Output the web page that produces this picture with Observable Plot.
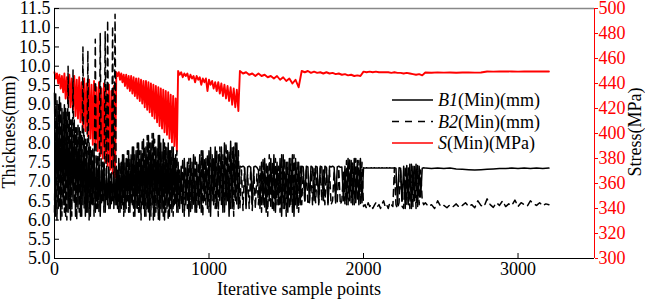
<!DOCTYPE html>
<html><head><meta charset="utf-8">
<script src="https://cdn.jsdelivr.net/npm/d3@7"></script>
<script src="https://cdn.jsdelivr.net/npm/@observablehq/plot@0.6"></script>
<style>
body{margin:0;background:#fff}
#chart svg, #chart svg text { font-family: "Liberation Serif", "Times New Roman", serif; }
</style>
</head><body><div id="chart"></div>
<script>
// ---- tick labels ----
const thicknessTicks = [5.0,5.5,6.0,6.5,7.0,7.5,8.0,8.5,9.0,9.5,10.0,10.5,11.0,11.5];
const stressTicks = [300,320,340,360,380,400,420,440,460,480,500];
const xTicks = [0,1000,2000,3000];
const legendNames = ["B1","B2","S"];
const legendUnits = ["(Min)(mm)","(Min)(mm)","(Min)(MPa)"];

// ---- S (Min)(MPa), segments: [start, step, values] ----
const sSeg1 = [449,444,448,440,447,436,446,433,448,428,445,425,447,421,444,419,446,414,443,412,445,409,441,404,444,402,440,398,443,396,439,391,442,389,437,386,441,382,436,380,440,377,435,374,439,371,434,368,438,365];
const sSeg2 = [449,446,449,443,448,441,447,438,447,436,446,434,446,432,445,430,444,428,444,426,443,424,442,421,442,419,441,417,440,414,439,412,438,409,437,406,436,404,435,401,434,399,433,396,431,393,430,390,428,386];
const sSeg3 = [450,447,449,445,448,446,448,443,447,444,446,441,446,443,445,439,444,441,444,434,443,439,442,436,441,434,441,432,440,430,439,428,438,426,437,423,436,421,435,418];
const sSeg4 = [450,448,449,447,448,446,448,446,447,445,446,444,446,443,445,442,444,440,443,437];
const sSeg5 = [450,449,450,448.5,449.5,448.5,449,448,449,448,448.5,447.5,448,447,447.5,446.5,447,446,446.5,446];
const sSeg6 = [449.5,449,449.5,449,449.5,449,449,449,449,448.5,449,448.5,448.5,448,448.5,448,447.5,447,447.5,446.5];
const sSeg7 = [448.8,448.6,448.9,448.7,448.8,448.6,448.8,448.9,448.7,448.8,449.6,449.5,449.6,449.7,449.6,449.5,449.6,449.6,449.7,449.6,449.6];

// ---- B1 (Min)(mm) ----
const b1Seg1 = [9.3,6.1,9.1,6.3,9.2,6.0,8.9,6.4,9.0,6.1,8.8,6.2,8.8,6.0,8.6,6.5,8.6,6.1,8.4,6.3,8.4,6.1,8.2,6.4,8.2,6.1,8.0,6.2,8.0,6.1,7.8,6.4,7.8,6.2,7.6,6.3,7.6,6.1,7.5,6.5,7.5,6.2,7.3,6.4,7.3,6.3,7.2,6.5,7.2,6.4];
const b1Seg2 = [7.4,6.3,7.6,6.2,7.5,6.4,7.7,6.2,7.6,6.5,7.8,6.2,7.7,6.4,7.9,6.1,7.8,6.3,8.0,6.2,7.8,6.4,8.1,6.1,7.9,6.3,8.2,6.0,8.0,6.4,8.25,6.1,7.9,6.3,8.2,6.0,8.0,6.2,8.1,6.0,7.9,6.3,8.0,6.1,7.8,6.2,7.9,6.4,7.7,6.2];
const b1Seg3 = [7.5,6.3,7.4,6.2,7.6,6.4,7.5,6.1,7.6,6.3,7.7,6.2,7.5,6.4,7.7,6.2,7.8,6.5,7.6,6.3,7.8,6.1,7.7,6.4,7.9,6.3,7.7,6.5,7.9,6.2,8.0,6.4,7.8,6.1,8.05,6.3,7.9,6.5,8.0,6.3];
const b1Seg4 = [7.4,7.38,7.4,7.37,6.3,7.38,7.4,7.37,6.4,7.38,7.4,7.37,7.3,6.3,7.5,6.4,7.6,6.2,7.4,6.5,7.6,6.3,7.7,6.2,7.5,6.4,7.6,6.1,7.7,6.3,7.5,6.2,7.6,6.4,7.7,6.1,7.6,6.3,7.5,6.4];
const b1Seg5 = [7.4,7.38,6.5,7.4,7.38,6.45,7.4,7.37,6.5,7.4,7.38,6.45,7.4,7.38,6.5,7.4,7.37,6.4,7.4,7.38,7.4,7.37,6.5,7.38,7.4,7.37,7.38,6.5,7.4,6.4,7.6,6.5,7.55,6.4,7.6,6.45,7.55,6.4,7.6,6.45];
const b1Seg6 = [7.36,7.35,7.36,7.35,7.35,7.36,7.35,7.36,7.35,7.35,7.36,7.35,7.36,7.35,7.35,7.36,7.35,7.36,7.35,7.35,7.36,7.35,6.4,7.36,7.35,6.5,7.4,6.3,7.42,6.4,7.45,6.3,7.4,6.5,7.45,6.35,7.4,6.6,7.35,7.36];
const b1Seg7 = [7.35,7.34,7.35,7.34,7.35,7.33,7.32,7.31,7.3,7.31,7.32,7.33,7.34,7.34,7.35,7.34,7.35,7.34,7.35,7.34,7.35];

// ---- B2 (Min)(mm) ----
const b2Seg1 = [6.2,9.3,6.0,9.0,6.3,9.1,6.1,8.8,6.2,8.9,6.0,10.0,6.3,8.6,6.1,9.9,6.4,8.4,6.0,8.5,6.2,8.3,6.1,10.5,6.3,8.1,6.2,10.4,6.0,7.9,6.4,7.9,6.1,10.7,6.3,7.7,6.2,10.85,6.4,7.5,6.2,10.9,6.5,11.2,6.3,7.2,6.4,11.05,6.3,11.35];
const b2Seg2 = [6.4,7.3,6.2,7.5,6.3,7.7,6.1,7.5,6.3,7.8,6.2,7.6,6.4,7.9,6.1,7.7,6.3,8.0,6.2,7.8,6.0,8.1,6.3,7.9,6.1,8.2,6.2,8.0,6.1,8.25,6.0,8.1,6.2,7.9,6.0,8.2,6.3,7.8,6.1,8.0,6.2,7.9,6.0,7.8,6.3,7.9,6.1,7.6,6.4,7.8];
const b2Seg3 = [6.2,7.3,6.4,7.6,6.1,7.4,6.3,7.6,6.2,7.5,6.4,7.7,6.2,7.5,6.3,7.8,6.1,7.6,6.4,7.7,6.2,7.9,6.5,7.6,6.3,7.8,6.1,7.9,6.4,7.7,6.2,8.0,6.5,7.8,6.3,7.9,6.1,8.0,6.4,7.8];
const b2Seg4 = [6.3,7.3,6.25,7.35,6.4,7.2,6.3,7.3,6.25,7.3,6.3,7.2,6.4,7.4,6.2,7.6,6.3,7.5,6.1,7.7,6.3,7.5,6.2,7.6,6.4,7.4,6.2,7.7,6.3,7.6,6.1,7.5,6.3,7.6,6.2,7.7,6.4,7.5,6.2,7.4];
const b2Seg5 = [6.4,7.3,6.45,7.35,6.4,6.5,7.3,6.4,7.35,6.45,7.3,6.4,7.35,6.5,7.3,6.4,7.35,6.45,7.3,6.4,6.5,7.3,6.4,6.45,7.35,6.4,6.5,7.3,6.4,7.55,6.4,7.6,6.45,7.5,6.4,7.6,6.5,7.55,6.4,7.5];
const b2Seg6 = [6.35,6.4,6.3,6.45,6.35,6.4,6.3,6.38,6.45,6.35,6.4,6.3,6.42,6.5,6.35,6.4,6.3,6.45,6.4,6.35,7.35,6.4,6.3,6.45,7.3,6.35,6.3,7.4,6.4,7.35,6.3,7.45,6.35,7.4,6.3,7.42,6.4,7.3,6.5,6.4];
const b2Seg7 = [6.45,6.35,6.4,6.3,6.5,6.35,6.38,6.32,6.4,6.35,6.42,6.33,6.38,6.45,6.35,6.4,6.32,6.5,6.38,6.35,6.55,6.4,6.33,6.45,6.38,6.5,6.35,6.42,6.38,6.52,6.35,6.45,6.4,6.36,6.5,6.42,6.38,6.45,6.37,6.42,6.4];

const sSegments  = [[0,8,sSeg1],[400,8,sSeg2],[800,10,sSeg3],[1200,20,sSeg4],[1600,20,sSeg5],[2000,20,sSeg6],[2400,40,sSeg7]];
const b1Segments = [[0,8,b1Seg1],[400,8,b1Seg2],[800,10,b1Seg3],[1200,10,b1Seg4],[1600,10,b1Seg5],[2000,10,b1Seg6],[2400,40,b1Seg7]];
const b2Segments = [[0,8,b2Seg1],[400,8,b2Seg2],[800,10,b2Seg3],[1200,10,b2Seg4],[1600,10,b2Seg5],[2000,10,b2Seg6],[2400,20,b2Seg7]];

const build = segs => segs.flatMap(([start, step, vals]) => vals.map((v, i) => ({x: start + i * step, v})));
const sData = build(sSegments), b1Data = build(b1Segments), b2Data = build(b2Segments);

const yDom = [5, 11.5], sDom = [300, 500];
const toThick = s => yDom[0] + (s - sDom[0]) * (yDom[1] - yDom[0]) / (sDom[1] - sDom[0]);
const toStress = t => sDom[0] + (t - yDom[0]) * (sDom[1] - sDom[0]) / (yDom[1] - yDom[0]);
const xMax = 3495;
const RED = "#ff0000";
const FONT = "Liberation Serif, Times New Roman, serif";

const plot = Plot.plot({
  width: 645, height: 300,
  marginLeft: 54, marginRight: 51, marginTop: 8, marginBottom: 42,
  style: {fontFamily: FONT, fontSize: "18px", background: "#fff", color: "#000"},
  x: {domain: [0, xMax]},
  y: {domain: yDom},
  marks: [
    Plot.line(sData, {x: "x", y: d => toThick(d.v), stroke: RED, strokeWidth: 1.9}),
    Plot.line(b1Data, {x: "x", y: "v", stroke: "#000", strokeWidth: 1.5}),
    Plot.line(b2Data, {x: "x", y: "v", stroke: "#000", strokeWidth: 1.5, strokeDasharray: "7,5"}),
    Plot.ruleY([yDom[1]], {stroke: "#888", strokeWidth: 1.5}),
    Plot.ruleY([yDom[0]], {stroke: "#000", strokeWidth: 1}),
    Plot.ruleX([0], {stroke: "#000", strokeWidth: 1}),
    Plot.ruleX([xMax], {stroke: RED, strokeWidth: 1}),
    // left axis: inward ticks + labels
    Plot.axisY(thicknessTicks, {anchor: "left", tickSize: 5, dx: 5, tickFormat: () => "", label: null}),
    Plot.text(thicknessTicks, {y: d => d, text: d => d.toFixed(1), frameAnchor: "left", textAnchor: "end", dx: -4, fill: "#000"}),
    // right axis (stress)
    Plot.axisY(stressTicks.map(toThick), {anchor: "right", tickSize: 3, tickPadding: 1, color: RED, tickFormat: d => String(Math.round(toStress(d))), label: null}),
    // bottom axis
    Plot.axisX(xTicks, {anchor: "bottom", tickSize: 5, dy: -5, tickFormat: () => "", label: null}),
    Plot.text(xTicks, {x: d => d, text: d => String(d), frameAnchor: "bottom", lineAnchor: "top", dy: 4, fill: "#000"})
  ]
});
document.getElementById("chart").appendChild(plot);

const svg = d3.select(plot);
svg.append("text").attr("x", 299).attr("y", 295).attr("text-anchor", "middle")
  .attr("font-size", 18).attr("fill", "#000").text("Iterative sample points");
svg.append("text").attr("transform", "translate(15,132) rotate(-90)").attr("text-anchor", "middle")
  .attr("font-size", 18).attr("fill", "#000").text("Thickness(mm)");
svg.append("text").attr("transform", "translate(641,132) rotate(-90)").attr("text-anchor", "middle")
  .attr("font-size", 18).attr("fill", "#000").text("Stress(MPa)");

const legendStyles = [{stroke: "#000", dash: null}, {stroke: "#000", dash: "7,6"}, {stroke: RED, dash: null}];
const lg = svg.append("g").attr("font-size", 18).attr("text-anchor", "start");
legendNames.forEach((name, i) => {
  const y = 100 + i * 21.5;
  lg.append("line").attr("x1", 392).attr("x2", 433).attr("y1", y).attr("y2", y)
    .attr("stroke", legendStyles[i].stroke).attr("stroke-width", 1.3)
    .attr("stroke-dasharray", legendStyles[i].dash);
  const t = lg.append("text").attr("x", 438).attr("y", y + 6).attr("fill", "#000").attr("text-anchor", "start");
  t.append("tspan").attr("font-style", "italic").text(name);
  t.append("tspan").text(legendUnits[i]);
});
</script>
</body></html>
